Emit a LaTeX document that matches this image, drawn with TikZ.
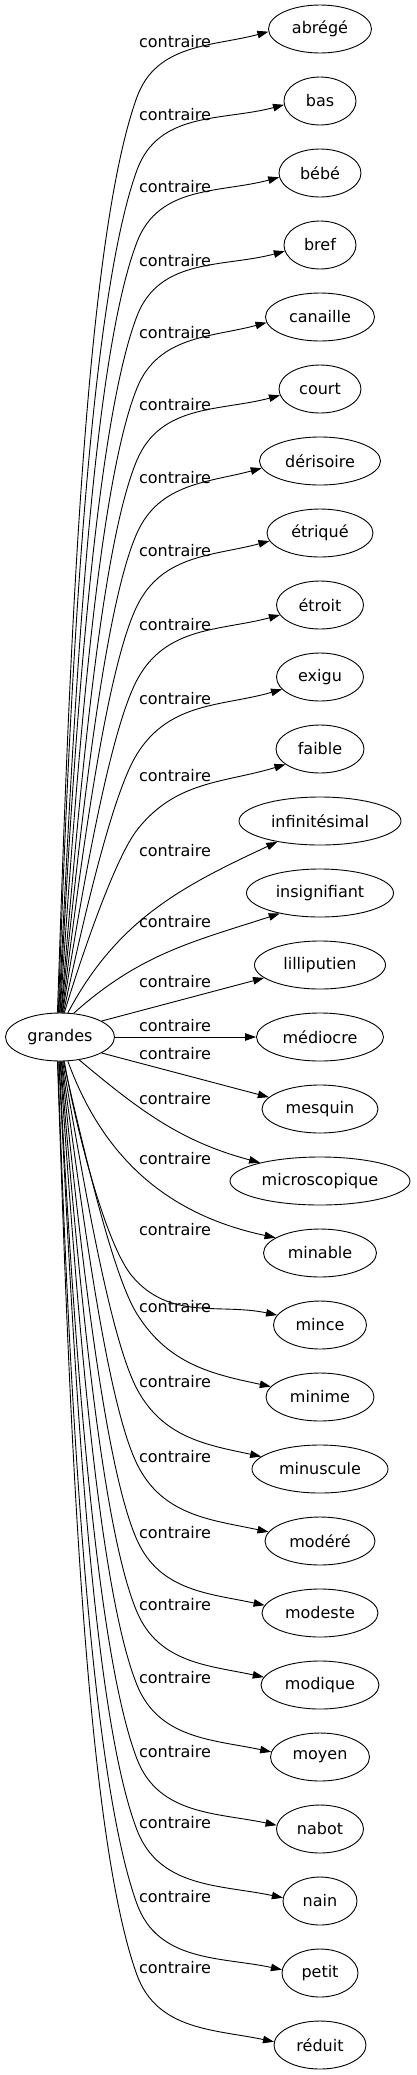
\documentclass[tikz,border=0pt]{standalone}
\usepackage{fontspec}
\setmainfont{DejaVu Sans}
\usetikzlibrary{arrows.meta,shapes.geometric}
\tikzset{
  ell/.style={ellipse, draw, line width=0.9pt, minimum height=48pt, inner sep=0pt, font=\fontsize{16}{19}\selectfont},
  lbl/.style={inner sep=0pt, font=\fontsize{16}{19}\selectfont},
  edge/.style={line width=0.9pt, -{Triangle[length=11pt,width=7.5pt]}},
  s1/.style={out looseness=0.85, in looseness=0.45}
}
\begin{document}
\begin{tikzpicture}[x=1pt,y=1pt]
\useasboundingbox (0,0) rectangle (416,-2075);
% nodes
\node[ell, minimum width=109pt] (grandes) at (60,-1037) {grandes};
\node[ell, minimum width=103pt] (abrege) at (320,-29) {abrégé};
\node[ell, minimum width=72pt] (bas) at (320,-101) {bas};
\node[ell, minimum width=82pt] (bebe) at (320,-173) {bébé};
\node[ell, minimum width=72pt] (bref) at (320,-245) {bref};
\node[ell, minimum width=109pt] (canaille) at (320,-317) {canaille};
\node[ell, minimum width=82pt] (court) at (320,-389) {court};
\node[ell, minimum width=121pt] (derisoire) at (320,-461) {dérisoire};
\node[ell, minimum width=106pt] (etrique) at (320,-533) {étriqué};
\node[ell, minimum width=87pt] (etroit) at (320,-605) {étroit};
\node[ell, minimum width=87pt] (exigu) at (320,-677) {exigu};
\node[ell, minimum width=88pt] (faible) at (320,-749) {faible};
\node[ell, minimum width=162pt] (infinitesimal) at (320,-821) {infinitésimal};
\node[ell, minimum width=147pt] (insignifiant) at (320,-893) {insignifiant};
\node[ell, minimum width=131pt] (lilliputien) at (320,-965) {lilliputien};
\node[ell, minimum width=127pt] (mediocre) at (320,-1037) {médiocre};
\node[ell, minimum width=116pt] (mesquin) at (320,-1109) {mesquin};
\node[ell, minimum width=180pt] (microscopique) at (320,-1181) {microscopique};
\node[ell, minimum width=113pt] (minable) at (320,-1253) {minable};
\node[ell, minimum width=93pt] (mince) at (320,-1325) {mince};
\node[ell, minimum width=108pt] (minime) at (320,-1397) {minime};
\node[ell, minimum width=136pt] (minuscule) at (320,-1469) {minuscule};
\node[ell, minimum width=110pt] (modere) at (320,-1541) {modéré};
\node[ell, minimum width=116pt] (modeste) at (320,-1613) {modeste};
\node[ell, minimum width=118pt] (modique) at (320,-1685) {modique};
\node[ell, minimum width=99pt] (moyen) at (320,-1757) {moyen};
\node[ell, minimum width=87pt] (nabot) at (320,-1829) {nabot};
\node[ell, minimum width=74pt] (nain) at (320,-1901) {nain};
\node[ell, minimum width=76pt] (petit) at (320,-1973) {petit};
\node[ell, minimum width=92pt] (reduit) at (320,-2045) {réduit};
% labels
\node[lbl] (l0) at (175,-42) {contraire};
\node[lbl] (l1) at (175,-115) {contraire};
\node[lbl] (l2) at (175,-187) {contraire};
\node[lbl] (l3) at (175,-261) {contraire};
\node[lbl] (l4) at (175,-333) {contraire};
\node[lbl] (l5) at (175,-405) {contraire};
\node[lbl] (l6) at (175,-478) {contraire};
\node[lbl] (l7) at (175,-551) {contraire};
\node[lbl] (l8) at (175,-625) {contraire};
\node[lbl] (l9) at (175,-699) {contraire};
\node[lbl] (l10) at (175,-776) {contraire};
\node[lbl] (l11) at (175,-851) {contraire};
\node[lbl] (l12) at (175,-922) {contraire};
\node[lbl] (l13) at (175,-982) {contraire};
\node[lbl] (l14) at (175,-1026) {contraire};
\node[lbl] (l15) at (175,-1054) {contraire};
\node[lbl] (l16) at (175,-1099) {contraire};
\node[lbl] (l17) at (175,-1159) {contraire};
\node[lbl] (l18) at (175,-1230) {contraire};
\node[lbl] (l19) at (175,-1307) {contraire};
\node[lbl] (l20) at (175,-1382) {contraire};
\node[lbl] (l21) at (175,-1457) {contraire};
\node[lbl] (l22) at (175,-1533) {contraire};
\node[lbl] (l23) at (175,-1605) {contraire};
\node[lbl] (l24) at (175,-1678) {contraire};
\node[lbl] (l25) at (175,-1752) {contraire};
\node[lbl] (l26) at (175,-1823) {contraire};
\node[lbl] (l27) at (175,-1897) {contraire};
\node[lbl] (l28) at (175,-1968) {contraire};
% top edges
\draw[edge] (grandes.96) to[out=88,in=250,s1] (137,-97) to[out=70,in=195] (abrege.183);
\draw[edge] (grandes.94.5) to[out=88,in=250,s1] (137,-170) to[out=70,in=195] (bas.186);
\draw[edge] (grandes.93) to[out=87,in=249,s1] (137,-242) to[out=69,in=195] (bebe.186);
\draw[edge] (grandes.91.5) to[out=87,in=249,s1] (137,-316) to[out=69,in=195] (bref.190);
\draw[edge] (grandes.90) to[out=86,in=248,s1] (137,-388) to[out=68,in=195] (canaille.186);
\draw[edge] (grandes.88.5) to[out=85,in=247,s1] (137,-460) to[out=67,in=195] (court.189);
\draw[edge] (grandes.87) to[out=84,in=246,s1] (137,-533) to[out=66,in=195] (derisoire.187);
\draw[edge] (grandes.85.5) to[out=83,in=244,s1] (137,-606) to[out=64,in=195] (etrique.189);
\draw[edge] (grandes.84) to[out=81,in=242,s1] (137,-680) to[out=62,in=195] (etroit.194);
\draw[edge] (grandes.82.5) to[out=78,in=238,s1] (137,-754) to[out=58,in=196] (exigu.198);
\draw[edge] (grandes.80) to[out=73,in=232,s1] (137,-830) to[out=52,in=197] (faible.204);
\draw[edge] (grandes.72) to[out=62,in=205] (infinitesimal.206);
\draw[edge] (grandes.60) to[out=42,in=198] (insignifiant.207);
\draw[edge] (grandes.21) -- (lilliputien.193);
\draw[edge] (grandes) -- (mediocre);
\draw[edge] (grandes.339) -- (mesquin.167);
% bottom edges
\draw[edge] (grandes.310) to[out=-40,in=165] (microscopique.163);
\draw[edge] (grandes.288) to[out=-70,in=168] (minable.161);
\draw[edge] (grandes.280) to[out=-80,in=130,s1] (132,-1276) to[out=-50,in=168] (mince.167);
\draw[edge] (grandes.278) to[out=-77,in=122,s1] (137,-1314) to[out=-58,in=168] (minime.168);
\draw[edge] (grandes.276) to[out=-80,in=118,s1] (137,-1389) to[out=-62,in=168] (minuscule.168);
\draw[edge] (grandes.274.5) to[out=-82,in=116,s1] (137,-1464) to[out=-64,in=168] (modere.170);
\draw[edge] (grandes.273) to[out=-84,in=114,s1] (137,-1540) to[out=-66,in=168] (modeste.172);
\draw[edge] (grandes.271.5) to[out=-85,in=113,s1] (137,-1612) to[out=-67,in=168] (modique.172);
\draw[edge] (grandes.270) to[out=-86,in=112,s1] (137,-1685) to[out=-68,in=168] (moyen.174);
\draw[edge] (grandes.268.5) to[out=-87,in=111,s1] (137,-1759) to[out=-69,in=168] (nabot.175);
\draw[edge] (grandes.267) to[out=-87,in=111,s1] (137,-1830) to[out=-69,in=168] (nain.175);
\draw[edge] (grandes.265.5) to[out=-88,in=110,s1] (137,-1904) to[out=-70,in=168] (petit.175.5);
\draw[edge] (grandes.264) to[out=-88,in=110,s1] (137,-1975) to[out=-70,in=168] (reduit.176);
\end{tikzpicture}
\end{document}
